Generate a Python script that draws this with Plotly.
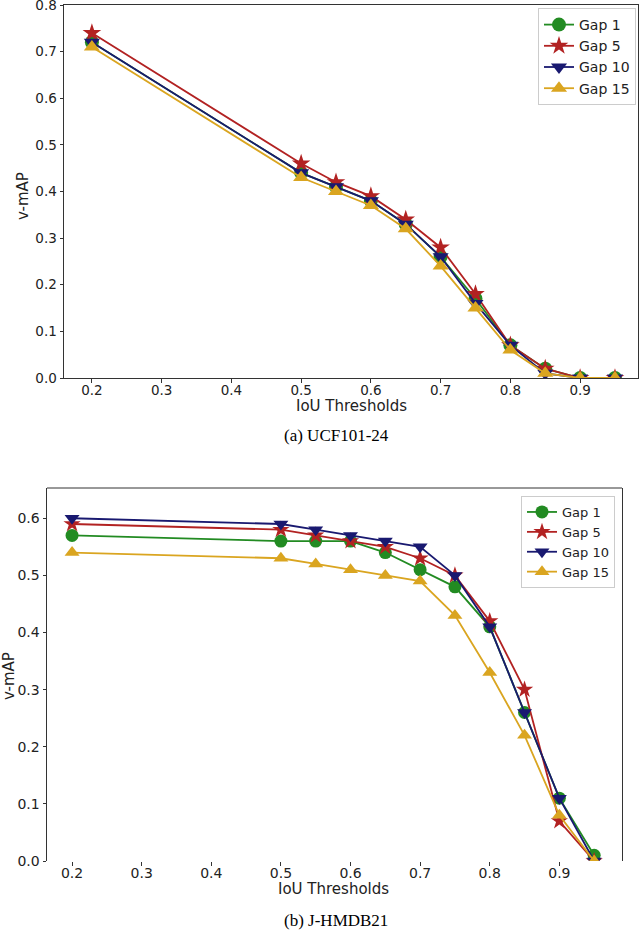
import plotly.graph_objects as go

iou = [0.2, 0.5, 0.55, 0.6, 0.65, 0.7, 0.75, 0.8, 0.85, 0.9, 0.95]
gap_names = ["Gap 1", "Gap 5", "Gap 10", "Gap 15"]

# (a) UCF101-24
ucf_gap1 = [0.72, 0.44, 0.41, 0.38, 0.33, 0.26, 0.17, 0.07, 0.02, 0.0, 0.0]
ucf_gap5 = [0.74, 0.46, 0.42, 0.39, 0.34, 0.28, 0.18, 0.07, 0.02, 0.0, 0.0]
ucf_gap10 = [0.72, 0.44, 0.41, 0.38, 0.33, 0.26, 0.16, 0.07, 0.01, 0.0, 0.0]
ucf_gap15 = [0.71, 0.43, 0.40, 0.37, 0.32, 0.24, 0.15, 0.06, 0.01, 0.0, 0.0]

# (b) J-HMDB21
jh_gap1 = [0.57, 0.56, 0.56, 0.56, 0.54, 0.51, 0.48, 0.41, 0.26, 0.11, 0.01]
jh_gap5 = [0.59, 0.58, 0.57, 0.56, 0.55, 0.53, 0.50, 0.42, 0.30, 0.07, 0.0]
jh_gap10 = [0.60, 0.59, 0.58, 0.57, 0.56, 0.55, 0.50, 0.41, 0.26, 0.11, 0.0]
jh_gap15 = [0.54, 0.53, 0.52, 0.51, 0.50, 0.49, 0.43, 0.33, 0.22, 0.08, 0.0]

x_ticks = [0.2, 0.3, 0.4, 0.5, 0.6, 0.7, 0.8, 0.9]
ucf_yticks = [0.0, 0.1, 0.2, 0.3, 0.4, 0.5, 0.6, 0.7, 0.8]
jh_yticks = [0.0, 0.1, 0.2, 0.3, 0.4, 0.5, 0.6]

colors = ["#228B22", "#B22222", "#191970", "#DAA520"]
symbols = ["circle", "star", "triangle-down", "triangle-up"]

W, H = 640, 937
fig = go.Figure()

for i, ys in enumerate([ucf_gap1, ucf_gap5, ucf_gap10, ucf_gap15]):
    fig.add_trace(go.Scatter(x=iou, y=ys, name=gap_names[i], mode="lines+markers",
                             line=dict(color=colors[i], width=1.8),
                             marker=dict(symbol=symbols[i], size=14, color=colors[i]),
                             xaxis="x", yaxis="y", legend="legend"))

for i, ys in enumerate([jh_gap1, jh_gap5, jh_gap10, jh_gap15]):
    fig.add_trace(go.Scatter(x=iou, y=ys, name=gap_names[i], mode="lines+markers",
                             line=dict(color=colors[i], width=1.8),
                             marker=dict(symbol=symbols[i], size=13, color=colors[i]),
                             xaxis="x2", yaxis="y2", legend="legend2"))

titlefont = dict(family="DejaVu Sans", size=15, color="#222")


def ax(size, line=True):
    return dict(showline=line, linecolor="#333", linewidth=1, mirror=line,
                ticks="outside", ticklen=3.5, tickcolor="#333", showgrid=False,
                zeroline=False, ticklabeloverflow="allow", automargin=False,
                tickfont=dict(family="DejaVu Sans", size=size, color="#222"))


def py(px_from_top):
    return (H - px_from_top) / H


fig.update_layout(
    width=W, height=H,
    margin=dict(l=0, r=0, t=0, b=0),
    plot_bgcolor="white", paper_bgcolor="white",
    xaxis=dict(domain=[64 / W, 638 / W], range=[0.16, 0.983],
               tickvals=x_ticks, tickformat=".1f", anchor="y",
               ticklabelstandoff=-4, **ax(13.5)),
    yaxis=dict(domain=[py(378), py(5)], range=[0, 0.8],
               tickvals=ucf_yticks, tickformat=".1f", anchor="x", **ax(13.5)),
    xaxis2=dict(domain=[47 / W, 622 / W], range=[0.164, 0.99],
                tickvals=x_ticks, tickformat=".1f", anchor="y2",
                ticklabelstandoff=-4, **ax(14, line=False)),
    yaxis2=dict(domain=[py(861), py(488)], range=[0, 0.653],
                tickvals=jh_yticks, tickformat=".1f", anchor="x2", **ax(14)),
    legend=dict(x=636 / W, y=py(8), xanchor="right", yanchor="top",
                bgcolor="white", bordercolor="#ccc", borderwidth=1,
                font=dict(family="DejaVu Sans", size=14, color="#222"),
                tracegroupgap=0, itemwidth=30),
    legend2=dict(x=615 / W, y=py(496), xanchor="right", yanchor="top",
                 bgcolor="white", bordercolor="#ccc", borderwidth=1,
                 font=dict(family="DejaVu Sans", size=13, color="#222"),
                 tracegroupgap=0, itemwidth=30),
    shapes=[dict(type="line", xref="x2 domain", yref="y2 domain",
                 x0=0, x1=1, y0=1, y1=1, line=dict(color="#333", width=1))],
    annotations=[
        dict(text="IoU Thresholds", x=351 / W, y=py(406), font=titlefont),
        dict(text="v-mAP", x=23 / W, y=py(196), textangle=-90, font=titlefont),
        dict(text="(a) UCF101-24", x=336 / W, y=py(436),
             font=dict(family="Liberation Serif", size=17, color="black")),
        dict(text="IoU Thresholds", x=333 / W, y=py(889), font=titlefont),
        dict(text="v-mAP", x=9 / W, y=py(676), textangle=-90, font=titlefont),
        dict(text="(b) J-HMDB21", x=336 / W, y=py(920),
             font=dict(family="Liberation Serif", size=17, color="black")),
    ],
)
fig.update_annotations(xref="paper", yref="paper", showarrow=False,
                       xanchor="center", yanchor="middle")

# page body has a default 8px margin; drop it so the figure sits at 0,0
fig.write_html("out.html", config={"displayModeBar": False},
               post_script="document.body.style.margin = '0';")
